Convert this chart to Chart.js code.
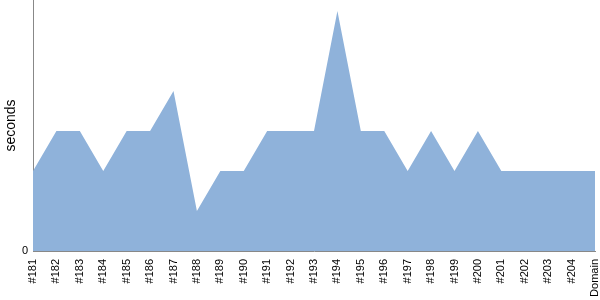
<!DOCTYPE html>
<html>
<head>
<meta charset="utf-8">
<script src="https://cdn.jsdelivr.net/npm/chart.js@4"></script>
<style>
  html, body { margin: 0; padding: 0; background: #fff; }
  #wrap { width: 600px; height: 300px; }
</style>
</head>
<body>
<div id="wrap"><canvas id="buildChart" width="600" height="300"></canvas></div>
<script>
const builds = ['#181', '#182', '#183', '#184', '#185', '#186', '#187', '#188', '#189', '#190',
    '#191', '#192', '#193', '#194', '#195', '#196', '#197', '#198', '#199', '#200',
    '#201', '#202', '#203', '#204', 'Domain'];
const seconds = [2, 3, 3, 2, 3, 3, 4, 1, 2, 2,
    3, 3, 3, 6, 3, 3, 2, 3, 2, 3,
    2, 2, 2, 2, 2];
const yTicks = [0];
const yMax = 6.275;

document.addEventListener('DOMContentLoaded', () => {
    const ctx = document.getElementById('buildChart');
    new Chart(ctx, {
        type: 'line',
        data: {
            labels: builds,
            datasets: [{
                label: 'seconds',
                data: seconds,
                fill: 'origin',
                backgroundColor: '#8fb2da',
                borderWidth: 0,
                pointRadius: 0,
                tension: 0
            }]
        },
        options: {
            responsive: false,
            animation: false,
            layout: { padding: { top: 0, right: 5, bottom: 0, left: 0 } },
            plugins: {
                legend: { display: false },
                tooltip: { enabled: false }
            },
            scales: {
                x: {
                    offset: false,
                    grid: { display: false, drawTicks: true, tickLength: 3, tickColor: '#888' },
                    border: { display: true, color: '#888', width: 1 },
                    ticks: {
                        color: '#000',
                        font: { family: 'Liberation Sans', size: 11 },
                        minRotation: 90,
                        maxRotation: 90,
                        autoSkip: false,
                        padding: 5
                    },
                    afterFit: scale => {
                        scale.height = 49;
                        scale.paddingLeft = 0;
                        scale.paddingRight = 0;
                    }
                },
                y: {
                    min: 0,
                    max: yMax,
                    grid: { display: false, drawTicks: true, tickLength: 3, tickColor: '#888' },
                    border: { display: true, color: '#888', width: 1 },
                    afterBuildTicks: scale => { scale.ticks = yTicks.map(v => ({ value: v })); },
                    ticks: {
                        color: '#000',
                        font: { family: 'Liberation Sans', size: 11 },
                        padding: 2
                    },
                    title: {
                        display: true,
                        text: 'seconds',
                        color: '#000',
                        font: { family: 'Liberation Sans', size: 14 },
                        padding: { top: 3, bottom: 0 }
                    },
                    afterFit: scale => {
                        scale.width = 33;
                        scale.paddingTop = 0;
                        scale.paddingBottom = 0;
                    }
                }
            }
        }
    });
});
</script>
</body>
</html>
